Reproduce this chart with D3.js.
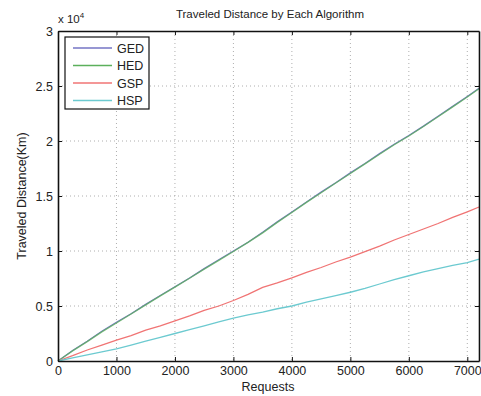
<!DOCTYPE html>
<html>
<head>
<meta charset="utf-8">
<script src="https://cdn.jsdelivr.net/npm/d3@7"></script>
<style>
  body { margin: 0; background: #fff; }
  text { font-family: "Liberation Sans", Arial, sans-serif; fill: #222; }
</style>
</head>
<body>
<div id="chart"></div>
<script>
// values (x = requests, y = km)
const requests = [0, 250, 500, 750, 1000, 1250, 1500, 1750, 2000, 2250, 2500, 2750, 3000, 3250, 3500, 3750, 4000, 4250, 4500, 4750, 5000, 5250, 5500, 5750, 6000, 6250, 6500, 6750, 7000, 7200];
const ged = [0, 950, 1800, 2700, 3520, 4300, 5150, 5950, 6750, 7550, 8400, 9200, 10000, 10800, 11700, 12650, 13550, 14450, 15350, 16200, 17100, 17950, 18850, 19700, 20500, 21350, 22250, 23150, 24050, 24800];
const hed = [0, 920, 1760, 2650, 3450, 4270, 5100, 5920, 6720, 7520, 8350, 9150, 9950, 10780, 11650, 12600, 13500, 14420, 15300, 16180, 17050, 17920, 18800, 19660, 20450, 21320, 22200, 23100, 24000, 24750];
const gsp = [0, 480, 1000, 1450, 1900, 2300, 2800, 3200, 3650, 4100, 4600, 5000, 5500, 6050, 6700, 7100, 7550, 8050, 8500, 9000, 9450, 9950, 10450, 11000, 11500, 12000, 12500, 13050, 13550, 14000];
const hsp = [0, 280, 550, 820, 1100, 1450, 1800, 2150, 2500, 2850, 3200, 3550, 3900, 4200, 4450, 4750, 5000, 5350, 5650, 5950, 6250, 6600, 7000, 7400, 7750, 8100, 8400, 8700, 8950, 9270];
const xTicks = [0, 1000, 2000, 3000, 4000, 5000, 6000, 7000];
const yTicks = [0, 5000, 10000, 15000, 20000, 25000, 30000];
const series = [
  { name: 'GED', values: ged, color: '#7474c4' },
  { name: 'HED', values: hed, color: '#5cb05c' },
  { name: 'GSP', values: gsp, color: '#f07474' },
  { name: 'HSP', values: hsp, color: '#6ccad0' }
];

const W = 481, H = 396;
const mLeft = 58, mRight = 479, mTop = 31, mBottom = 361;

const svg = d3.select('#chart').append('svg')
  .attr('width', W).attr('height', H);

const x = d3.scaleLinear().domain([0, 7200]).range([mLeft, mRight]);
const y = d3.scaleLinear().domain([0, 30000]).range([mBottom, mTop]);

// grid
const grid = svg.append('g').attr('stroke', '#9a9a9a').attr('stroke-width', 0.8)
  .attr('stroke-dasharray', '1,3');
grid.selectAll('.gx').data(xTicks.slice(1)).enter().append('line')
  .attr('x1', d => x(d)).attr('x2', d => x(d)).attr('y1', mTop).attr('y2', mBottom);
grid.selectAll('.gy').data(yTicks.slice(1, -1)).enter().append('line')
  .attr('y1', d => y(d)).attr('y2', d => y(d)).attr('x1', mLeft).attr('x2', mRight);

// lines
const line = d3.line().x((d, i) => x(requests[i])).y(d => y(d));
series.forEach(s => {
  svg.append('path')
    .datum(s.values)
    .attr('fill', 'none')
    .attr('stroke', s.color)
    .attr('stroke-width', 1.3)
    .attr('opacity', s.name === 'HED' ? 0.8 : 1)
    .attr('d', line);
});

// axes, MATLAB style ticks pointing inward
svg.append('g')
  .attr('transform', `translate(0,${mBottom})`)
  .call(d3.axisBottom(x).tickValues(xTicks).tickFormat(d3.format('d')).tickSizeInner(-4).tickSizeOuter(0).tickPadding(5))
  .call(g => g.selectAll('text').style('font-size', '12.5px'));
svg.append('g')
  .attr('transform', `translate(${mLeft},0)`)
  .call(d3.axisLeft(y).tickValues(yTicks).tickFormat(d => d / 10000).tickSizeInner(-4).tickSizeOuter(0).tickPadding(5))
  .call(g => g.selectAll('text').style('font-size', '12.5px'));
svg.append('g')
  .attr('transform', `translate(0,${mTop})`)
  .call(d3.axisTop(x).tickValues(xTicks).tickSizeInner(-4).tickSizeOuter(0).tickFormat(''));
svg.append('g')
  .attr('transform', `translate(${mRight},0)`)
  .call(d3.axisRight(y).tickValues(yTicks).tickSizeInner(-4).tickSizeOuter(0).tickFormat(''));
svg.selectAll('.domain').attr('stroke', '#111').attr('stroke-width', 1.6);
svg.selectAll('.tick line').attr('stroke', '#111');

// labels
svg.append('text').attr('x', 270).attr('y', 18).attr('text-anchor', 'middle')
  .style('font-size', '11.5px').text('Traveled Distance by Each Algorithm');
svg.append('text').attr('x', 268).attr('y', 391).attr('text-anchor', 'middle')
  .style('font-size', '12.5px').text('Requests');
svg.append('text').attr('transform', 'translate(26,196) rotate(-90)').attr('text-anchor', 'middle')
  .style('font-size', '12.5px').text('Traveled Distance(Km)');
const mult = svg.append('text').attr('x', 58).attr('y', 23).style('font-size', '11.5px');
mult.append('tspan').text('x 10');
mult.append('tspan').attr('dy', -5).style('font-size', '8px').text('4');

// legend
const lg = svg.append('g');
lg.append('rect').attr('x', 65).attr('y', 37).attr('width', 84).attr('height', 72)
  .attr('fill', '#fff').attr('stroke', '#111').attr('stroke-width', 1.2);
series.forEach((s, i) => {
  const yy = 48 + i * 17.5;
  lg.append('line').attr('x1', 73).attr('x2', 112).attr('y1', yy).attr('y2', yy)
    .attr('stroke', s.color).attr('stroke-width', 1.5);
  lg.append('text').attr('x', 117).attr('y', yy + 4.5).style('font-size', '12.5px').text(s.name);
});
</script>
</body>
</html>
